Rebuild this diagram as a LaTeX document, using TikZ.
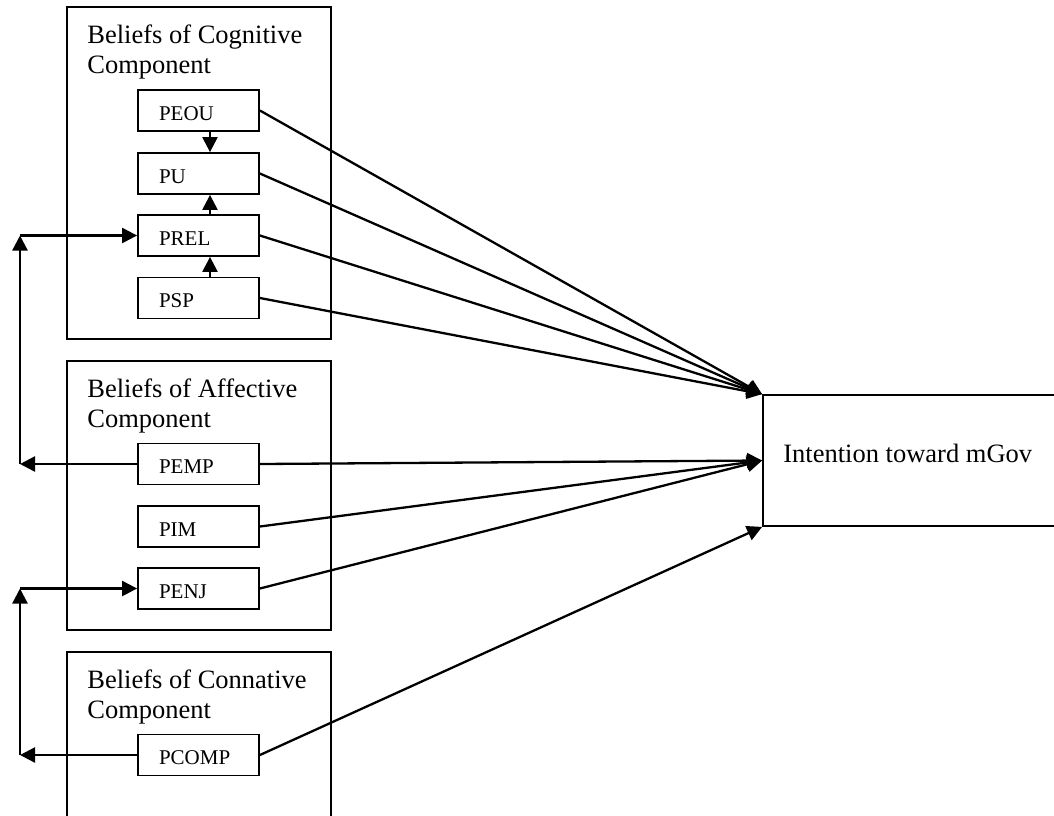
\documentclass[tikz,border=0pt]{standalone}
\usepackage{fontspec}
\setmainfont{Liberation Serif}
\usetikzlibrary{arrows.meta}
\begin{document}
\begin{tikzpicture}[x=0.5pt,y=-0.5pt,
  frame/.style={draw, line width=0.9pt, minimum width=132pt, inner sep=0pt},
  sbox/.style={draw, line width=0.9pt, minimum width=60.5pt, minimum height=20.5pt,
    inner xsep=10.5pt, inner ysep=0pt, text width=39.5pt, align=left,
    text height=9.5pt, text depth=0pt, font=\fontsize{10.5}{12}\selectfont},
  head/.style={anchor=base west, inner sep=0pt, font=\fontsize{13.25}{15}\selectfont},
  arr/.style={line width=1.15pt, -{Triangle[length=7.5pt,width=7.5pt]}},
]
\clip (0,0) rectangle (1054,815);

% component frames
\node[frame, minimum height=166pt]   (cog) at (199,173)   {};
\node[frame, minimum height=134.5pt] (aff) at (199,495.5) {};
\node[frame, minimum height=124pt]   (con) at (199,776)   {};

\node[head] (cogA) at (87,43)  {Beliefs of Cognitive};
\node[head] (cogB) at (87,73)  {Component};
\node[head] (affA) at (87,397) {Beliefs of Affective};
\node[head] (affB) at (87,427) {Component};
\node[head] (conA) at (87,688) {Beliefs of Connative};
\node[head] (conB) at (87,718) {Component};

% constructs
\node[sbox] (peou)  at (198.5,110.5) {PEOU};
\node[sbox] (pu)    at (198.5,173.5) {PU};
\node[sbox] (prel)  at (198.5,235.5) {PREL};
\node[sbox] (psp)   at (198.5,298)   {PSP};
\node[sbox] (pemp)  at (198.5,464)   {PEMP};
\node[sbox] (pim)   at (198.5,526.5) {PIM};
\node[sbox] (penj)  at (198.5,588.5) {PENJ};
\node[sbox] (pcomp) at (198.5,755)   {PCOMP};

% outcome
\node[draw, line width=0.9pt, minimum width=200pt, minimum height=65.5pt] (intent) at (963,460.5) {};
\node[head] (intentT) at (783,462) {Intention toward mGov};

% links inside the cognitive component
\draw[arr] ([xshift=5.75pt]peou.south) -- ([xshift=5.75pt]pu.north);
\draw[arr] ([xshift=5.75pt]prel.north) -- ([xshift=5.75pt]pu.south);
\draw[arr] ([xshift=5.75pt]psp.north)  -- ([xshift=5.75pt]prel.south);

% paths to intention
\draw[arr] (peou.east)  -- (intent.north west);
\draw[arr] (pu.east)    -- (intent.north west);
\draw[arr] (prel.east)  -- (intent.north west);
\draw[arr] (psp.east)   -- (intent.north west);
\draw[arr] (pemp.east)  -- (intent.west);
\draw[arr] (pim.east)   -- (intent.west);
\draw[arr] (penj.east)  -- (intent.west);
\draw[arr] (pcomp.east) -- (intent.south west);

% feedback loops on the left
\coordinate (lx) at (20,0);
\coordinate (empL) at (pemp.west -| lx);
\coordinate (relL) at (prel.west -| lx);
\coordinate (compL) at (pcomp.west -| lx);
\coordinate (enjL) at (penj.west -| lx);
\draw[arr] (pemp.west) -- (empL);
\draw[arr] (empL) -- (relL);
\draw[arr] (relL) -- (prel.west);
\draw[arr] (pcomp.west) -- (compL);
\draw[arr] (compL) -- (enjL);
\draw[arr] (enjL) -- (penj.west);
\end{tikzpicture}
\end{document}
